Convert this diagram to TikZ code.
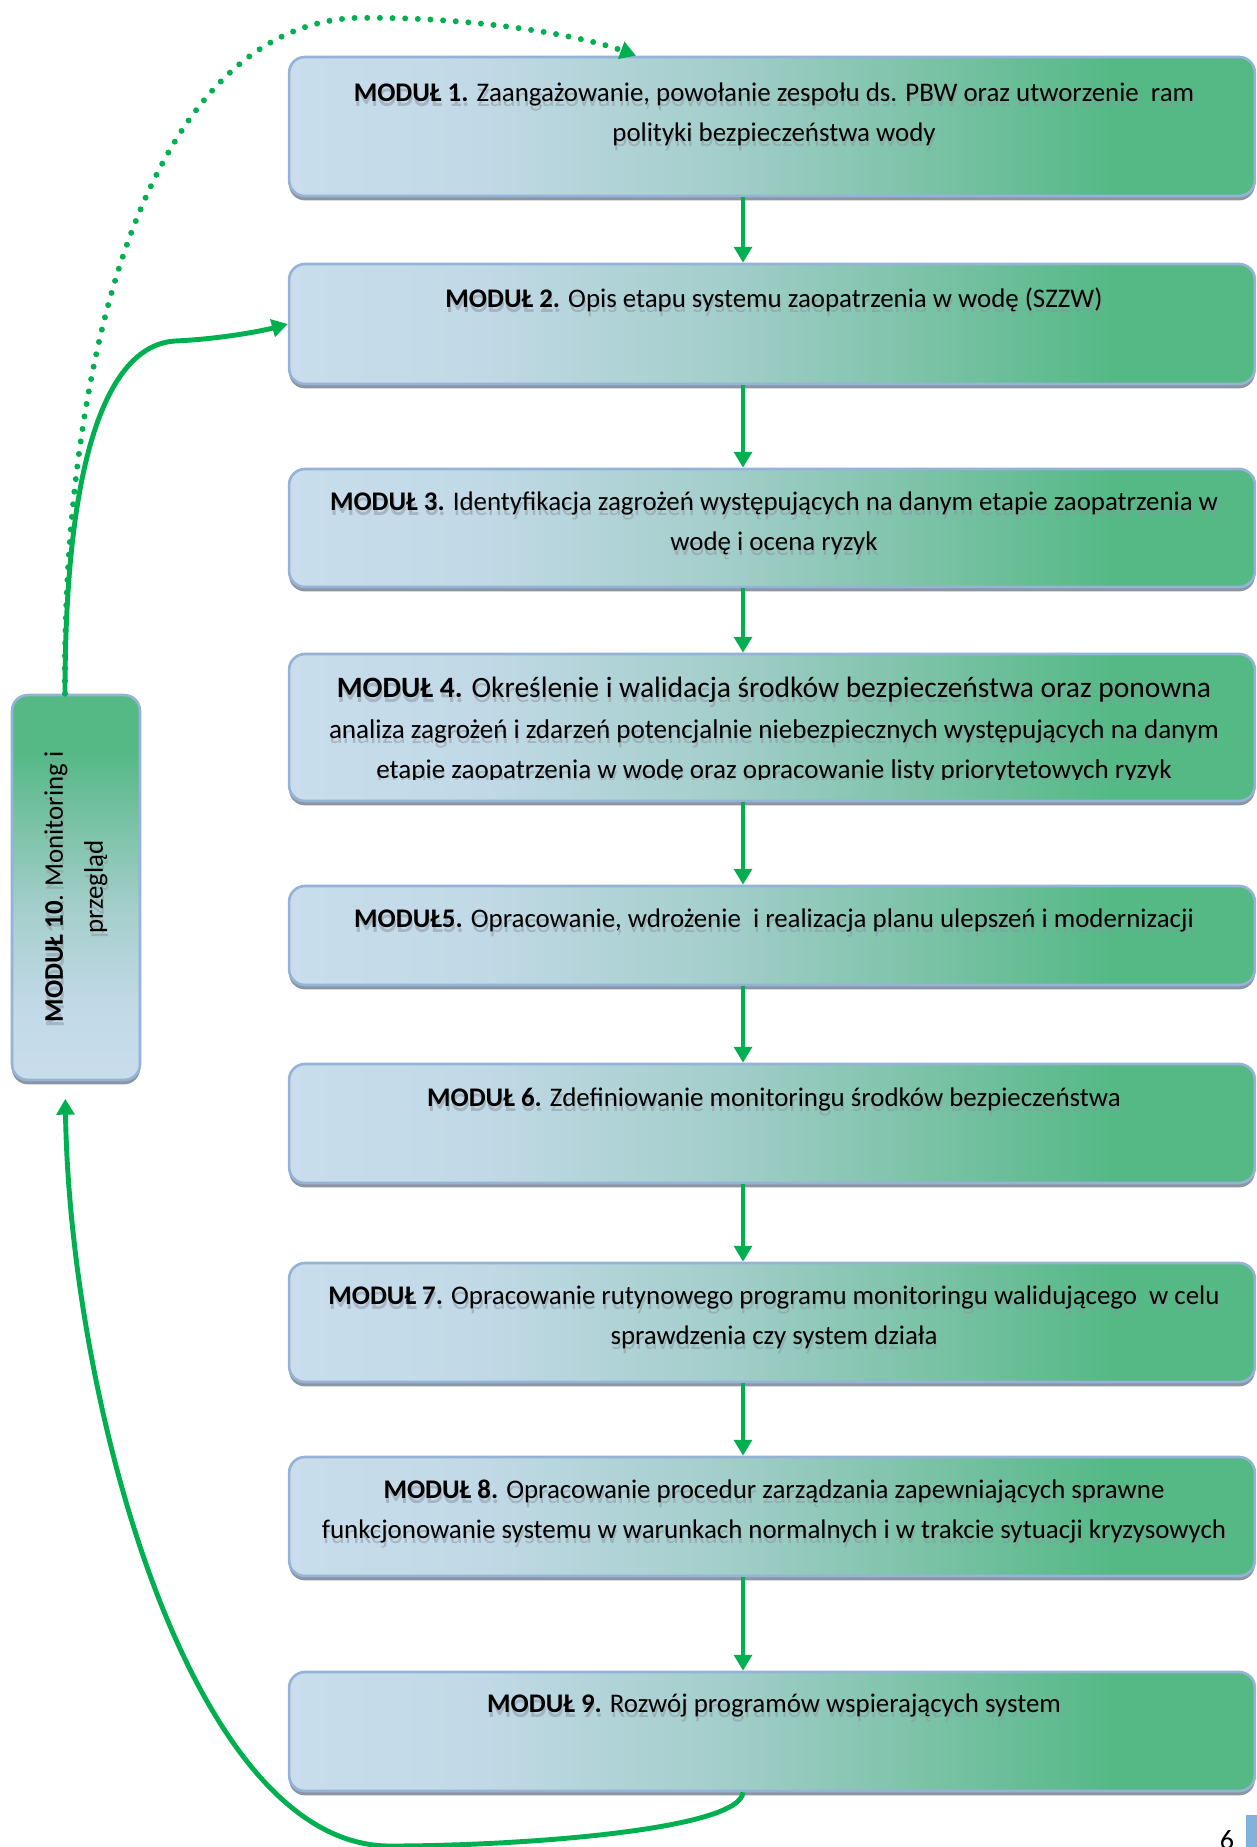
\documentclass[tikz,border=0pt]{standalone}
\usepackage{fontspec}
\setmainfont{Carlito}
\usetikzlibrary{arrows.meta}

\definecolor{lineg}{RGB}{0,176,80}
\definecolor{edgeblue}{RGB}{149,179,215}
\definecolor{shadowgray}{RGB}{140,150,163}
\definecolor{lightbl}{RGB}{201,221,236}
\definecolor{lightbl2}{RGB}{193,217,230}
\definecolor{midteal}{RGB}{163,206,202}
\definecolor{midgreen}{RGB}{115,192,160}
\definecolor{boxgreen}{RGB}{85,185,134}
\definecolor{barblue}{RGB}{128,178,222}

% the box spans 25bp..75bp of the shading
\pgfdeclarehorizontalshading{modshade}{100bp}{color(0bp)=(lightbl); color(25bp)=(lightbl); color(35bp)=(lightbl2); color(47.5bp)=(midteal); color(60bp)=(midgreen); color(67.5bp)=(boxgreen); color(100bp)=(boxgreen)}
\pgfdeclareverticalshading{modvshade}{100bp}{color(0bp)=(lightbl); color(25bp)=(lightbl); color(35bp)=(lightbl2); color(47.5bp)=(midteal); color(60bp)=(midgreen); color(67.5bp)=(boxgreen); color(100bp)=(boxgreen)}

\tikzset{
  modbox/.style={draw=edgeblue, line width=1.5pt, rounded corners=9pt, shading=modshade,
    inner sep=0pt, minimum width=19.32cm,
    preaction={fill=shadowgray, transform canvas={yshift=-2.5pt}}},
  sidebox/.style={modbox, shading=modvshade, minimum width=2.56cm, minimum height=7.7cm},
  modtext/.style={align=center, inner sep=0pt, font=\fontsize{15.3}{22.8}\selectfont},
  textshadow/.style={text=shadowgray, opacity=0.55, xshift=0.5pt, yshift=-3pt},
  flow/.style={->, draw=lineg, line width=2.8pt},
  loopline/.style={->, draw=lineg, line width=2.8pt},
  loopdots/.style={->, draw=lineg, line width=3.4pt, line cap=round, dash pattern=on 0pt off 7.2pt},
}

% text with its grey reflection underneath
\newcommand{\modlabel}[4][]{%
  \node[modtext, textshadow, #1] at #3 {#4};
  \node[modtext, #1] (#2) at #3 {#4};}

\begin{document}
\begin{tikzpicture}[x=0.02cm, y=-0.02cm, >={Triangle[width=10pt,length=9pt]}]

    \useasboundingbox (0,0) rectangle (1257,1847);

    % Boxes of the modules
    \node[modbox, minimum height=2.78cm] (m1) at (772,126.5) {};
    \node[modbox, minimum height=2.40cm] (m2) at (772,324) {};
    \node[modbox, minimum height=2.36cm] (m3) at (772,528) {};
    \node[modbox, minimum height=2.94cm] (m4) at (772,727.5) {};
    \node[modbox, minimum height=1.98cm] (m5) at (772,935.5) {};
    \node[modbox, minimum height=2.38cm] (m6) at (772,1123.5) {};
    \node[modbox, minimum height=2.38cm] (m7) at (772,1322.5) {};
    \node[modbox, minimum height=2.38cm] (m8) at (772,1516.5) {};
    \node[modbox, minimum height=2.38cm] (m9) at (772,1731.5) {};
    \node[sidebox] (m10) at (76,887.5) {};

    % Texts
    \modlabel{t1}{(774,114)}{\textbf{MODUŁ 1.} Zaangażowanie, powołanie zespołu ds. PBW oraz utworzenie\ \ ram\\polityki bezpieczeństwa wody}
    \modlabel{t2}{(774,300)}{\textbf{MODUŁ 2.} Opis etapu systemu zaopatrzenia w wodę (SZZW)}
    \modlabel{t3}{(774,523.5)}{\textbf{MODUŁ 3.} Identyfikacja zagrożeń występujących na danym etapie zaopatrzenia w\\wodę i ocena ryzyk}
    \begin{scope}
      \clip (289,654) rectangle (1255,779);
      \modlabel[font=\fontsize{15.4}{23.2}\selectfont]{t4}{(774,730)}{{\fontsize{16.8}{23.2}\selectfont\textbf{MODUŁ 4.} Określenie i walidacja środków bezpieczeństwa oraz ponowna}\\analiza zagrożeń i zdarzeń potencjalnie niebezpiecznych występujących na danym\\etapie zaopatrzenia w wodę oraz opracowanie listy priorytetowych ryzyk}
    \end{scope}
    \modlabel{t5}{(774,920)}{\textbf{MODUŁ5.} Opracowanie, wdrożenie\ \ i realizacja planu ulepszeń i modernizacji}
    \modlabel{t6}{(774,1099)}{\textbf{MODUŁ 6.} Zdefiniowanie monitoringu środków bezpieczeństwa}
    \modlabel{t7}{(774,1317.5)}{\textbf{MODUŁ 7.} Opracowanie rutynowego programu monitoringu walidującego\ \ w celu\\sprawdzenia czy system działa}
    \modlabel{t8}{(774,1511.5)}{\textbf{MODUŁ 8.} Opracowanie procedur zarządzania zapewniających sprawne\\funkcjonowanie systemu w warunkach normalnych i w trakcie sytuacji kryzysowych}
    \modlabel{t9}{(774,1705)}{\textbf{MODUŁ 9.} Rozwój programów wspierających system}
    \modlabel[rotate=90, textshadow/.style={text=shadowgray, opacity=0.55, xshift=2.5pt, yshift=0pt}]{t10}{(76,887)}{\textbf{MODUŁ 10}. Monitoring i\\przegląd}

    % Arrows down the chain
    \coordinate (spine) at (743,0);
    \coordinate (back) at (65,0);
    \coordinate (dotend) at (636,0);
    \foreach \a/\b in {m1/m2, m2/m3, m3/m4, m4/m5, m5/m6, m6/m7, m7/m8, m8/m9}
      \draw[flow] (\a.south -| spine) -- (\b.north -| spine);

    % Loops of module 10
    \draw[loopline] (m10.north -| back) .. controls (65,450) and (110,345) .. (175,341)
      .. controls (220,339) and (262,331) .. (m2.west);
    \draw[loopdots] (m10.north -| back) .. controls (62,350) and (150,30) .. (353,18)
      .. controls (470,16) and (580,35) .. (m1.north -| dotend);
    \draw[loopline, shorten >=10pt] (m9.south -| spine) .. controls (740,1830) and (520,1846) .. (390,1846)
      .. controls (190,1846) and (70,1400) .. (m10.south -| back);

    % Page number
    \node[anchor=north, inner sep=0pt, font=\fontsize{16}{18}\selectfont] (page) at (1227,1830) {6};
    \fill[barblue] (1246,1815) rectangle (1257,1847);

\end{tikzpicture}
\end{document}
